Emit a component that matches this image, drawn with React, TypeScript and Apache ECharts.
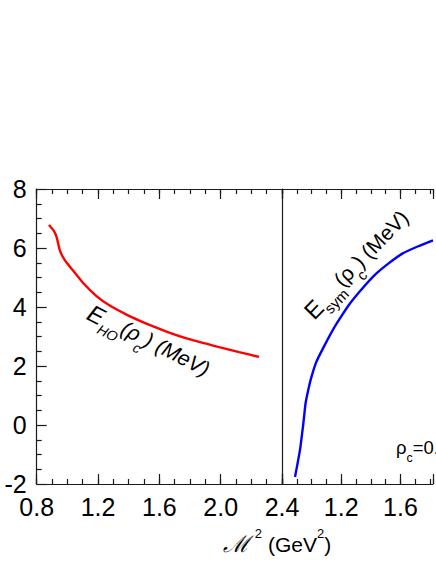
import React, { useEffect, useRef } from "react";
import * as echarts from "echarts";

const xTicksLeft = [0.8, 1.2, 1.6, 2.0, 2.4];
const xRightMax = 1.82;
const yTicks = [-2, 0, 2, 4, 6, 8];

// E_HO(rho_c) vs M^2 (left panel)
const hoX = [0.88, 0.912, 0.93, 0.951, 0.984, 1.027, 1.1, 1.19, 1.276, 1.38, 1.47, 1.56, 1.65, 1.8, 1.99, 2.12, 2.25];
const hoY = [6.78, 6.58, 6.37, 5.92, 5.58, 5.3, 4.83, 4.37, 4.05, 3.76, 3.54, 3.34, 3.16, 2.9, 2.64, 2.47, 2.31];

// E_sym(rho_c) vs M^2 (right panel)
const symX = [0.888, 0.921, 0.944, 0.959, 0.977, 0.999, 1.032, 1.076, 1.142, 1.2, 1.259, 1.35, 1.436, 1.52, 1.613, 1.72, 1.82];
const symY = [-1.76, -0.86, 0.05, 0.73, 1.18, 1.63, 2.14, 2.59, 3.21, 3.68, 4.12, 4.67, 5.13, 5.48, 5.81, 6.06, 6.26];

const FONT = "Liberation Sans, Arial, sans-serif";
const AX = "#1a1a1a";
const LABEL_SIZE = 25;

export default function App() {
  const ref = useRef<HTMLDivElement>(null);
  useEffect(() => {
    if (!ref.current) return;
    const chart = echarts.init(ref.current, null, { renderer: "svg" });
    const xMin = xTicksLeft[0];
    const xMax = xTicksLeft[xTicksLeft.length - 1];
    const yMin = yTicks[0];
    const yMax = yTicks[yTicks.length - 1];
    const lineSt = { color: AX, width: 1.2 };
    const xAx = (
      grid: number,
      pos: "top" | "bottom",
      max: number,
      interval: number,
      tickLen: number,
      showLine: boolean,
      labelFmt: ((v: number) => string) | null
    ) => ({
      type: "value",
      gridIndex: grid,
      position: pos,
      min: xMin,
      max,
      interval,
      axisLine: { show: showLine, onZero: false, lineStyle: lineSt },
      axisTick: { show: true, inside: true, length: tickLen, lineStyle: lineSt },
      minorTick: { show: false },
      splitLine: { show: false },
      axisLabel: labelFmt
        ? {
            show: true,
            fontSize: LABEL_SIZE,
            fontFamily: FONT,
            color: "#000",
            margin: 10,
            formatter: labelFmt,
          }
        : { show: false },
    });
    const leftFmt = (v: number) => v.toFixed(1);
    const rightFmt = (v: number) => (v < 0.9 || v > 1.7 ? "" : v.toFixed(1));
    const option: any = {
      animation: false,
      backgroundColor: "#fff",
      grid: [
        { left: 36.7, top: 189, width: 245.3, height: 295 },
        { left: 282, top: 189, width: 154, height: 295 },
      ],
      xAxis: [
        xAx(0, "bottom", xMax, 0.4, 10, true, leftFmt),
        xAx(0, "bottom", xMax, 0.1, 5, false, null),
        xAx(0, "top", xMax, 0.4, 10, true, null),
        xAx(0, "top", xMax, 0.1, 5, false, null),
        xAx(1, "bottom", xRightMax, 0.4, 10, true, rightFmt),
        xAx(1, "bottom", xRightMax, 0.1, 5, false, null),
        xAx(1, "top", xRightMax, 0.4, 10, true, null),
        xAx(1, "top", xRightMax, 0.1, 5, false, null),
      ],
      yAxis: [
        {
          type: "value",
          gridIndex: 0,
          position: "left",
          min: yMin,
          max: yMax,
          interval: 2,
          axisLine: { show: true, onZero: false, lineStyle: lineSt },
          axisTick: { show: true, inside: true, length: 10, lineStyle: lineSt },
          minorTick: { show: true, splitNumber: 4, length: 5, lineStyle: lineSt },
          splitLine: { show: false },
          axisLabel: { show: true, fontSize: LABEL_SIZE, fontFamily: FONT, color: "#000", margin: 10 },
        },
        {
          type: "value",
          gridIndex: 1,
          position: "left",
          min: yMin,
          max: yMax,
          interval: 2,
          axisLine: { show: true, onZero: false, lineStyle: lineSt },
          axisTick: { show: false },
          minorTick: { show: false },
          splitLine: { show: false },
          axisLabel: { show: false },
        },
      ],
      series: [
        {
          type: "line",
          xAxisIndex: 0,
          yAxisIndex: 0,
          data: hoX.map((x, i) => [x, hoY[i]]),
          showSymbol: false,
          smooth: 0.15,
          lineStyle: { color: "#ff0000", width: 2.4 },
        },
        {
          type: "line",
          xAxisIndex: 4,
          yAxisIndex: 1,
          data: symX.map((x, i) => [x, symY[i]]),
          showSymbol: false,
          smooth: 0.15,
          lineStyle: { color: "#0000ff", width: 2.4 },
        },
      ],
      graphic: [
        {
          type: "text",
          x: 147,
          y: 344,
          rotation: -0.47,
          style: {
            text: "{e|E}{s|HO}{n|(ρ}{s|c}{n|) (MeV)}",
            textAlign: "center",
            textVerticalAlign: "middle",
            fill: "#000",
            rich: {
              e: { fontSize: 24, fontFamily: FONT, fontStyle: "italic", lineHeight: 30, verticalAlign: "top" },
              n: { fontSize: 21, fontFamily: FONT, fontStyle: "italic", lineHeight: 30, verticalAlign: "top" },
              s: { fontSize: 14, fontFamily: FONT, fontStyle: "italic", lineHeight: 14, verticalAlign: "bottom" },
            },
          },
        },
        {
          type: "text",
          x: 359,
          y: 267,
          rotation: 0.8,
          style: {
            text: "{e|E}{s|sym}{n|(ρ}{s|c}{n|) (MeV)}",
            textAlign: "center",
            textVerticalAlign: "middle",
            fill: "#000",
            rich: {
              e: { fontSize: 24, fontFamily: FONT, lineHeight: 30, verticalAlign: "top" },
              n: { fontSize: 21, fontFamily: FONT, lineHeight: 30, verticalAlign: "top" },
              s: { fontSize: 15, fontFamily: FONT, lineHeight: 14, verticalAlign: "bottom" },
            },
          },
        },
        {
          type: "text",
          x: 396,
          y: 451,
          style: {
            text: "{n|ρ}{s|c}{n|=0.}",
            textAlign: "left",
            textVerticalAlign: "middle",
            fill: "#000",
            rich: {
              n: { fontSize: 18.5, fontFamily: FONT, lineHeight: 26, verticalAlign: "top" },
              s: { fontSize: 12.5, fontFamily: FONT, lineHeight: 13, verticalAlign: "bottom" },
            },
          },
        },
        {
          type: "text",
          x: 277,
          y: 541,
          style: {
            text: "{m|ℳ}{p|2}{n| (GeV}{q|2}{n|)}",
            textAlign: "center",
            textVerticalAlign: "middle",
            fill: "#000",
            rich: {
              m: { fontSize: 23, fontFamily: "DejaVu Serif, serif", fontStyle: "italic", lineHeight: 28, verticalAlign: "bottom" },
              n: { fontSize: 21, fontFamily: FONT, lineHeight: 28, verticalAlign: "bottom" },
              p: { fontSize: 13, fontFamily: FONT, lineHeight: 14, verticalAlign: "top", padding: [0, 0, 0, 5] },
              q: { fontSize: 13, fontFamily: FONT, lineHeight: 14, verticalAlign: "top" },
            },
          },
        },
      ],
    };
    chart.setOption(option);
    return () => chart.dispose();
  }, []);
  return (
    <div
      ref={ref}
      style={{ position: "absolute", left: 0, top: 0, width: 436, height: 564, overflow: "hidden" }}
    />
  );
}
